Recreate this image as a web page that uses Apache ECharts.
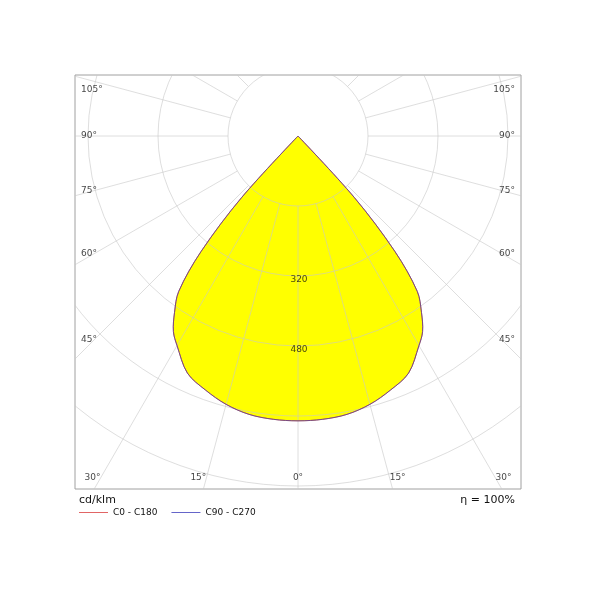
<!DOCTYPE html>
<html><head><meta charset="utf-8">
<script src="https://cdn.jsdelivr.net/npm/echarts@6/dist/echarts.min.js"></script>
<style>html,body{margin:0;padding:0;background:#fff}#c{width:600px;height:600px}</style>
</head><body><div id="c"></div>
<script>
// ---- data (cd/klm) ----
const gammaAngles = [0, 5, 10, 15, 20, 25, 30, 32.5, 35, 37.5, 40, 42.5, 45];
const c0c180  = [651, 650, 646, 635, 618, 598, 553, 530, 492, 448, 345, 190, 0];
const c90c270 = [651, 650, 646, 635, 618, 598, 553, 530, 492, 448, 345, 190, 0];
const ringValues = [160, 320, 480, 640, 800];
const ringLabelValues = [320, 480];
const rayAngles = [0,15,30,45,60,75,90,105,120,135,150,165,180,195,210,225,240,255,270,285,300,315,330,345];
const bottomTicks = [-30, -15, 0, 15, 30];
const sideTicks = [45, 60, 75, 90, 105];

// ---- layout ----
const BOX = {left: 75, top: 75, width: 446, height: 414};
const POLE = {x: 298, y: 136};
const PX_PER_CD = 70 / 160;
const FONT = 'DejaVu Sans';
const TXT = '#111';
const GRID = 'rgba(200,200,200,0.6)';
const RED = '#e06060', BLUE = '#6060c8';
const xMin = -(POLE.x - BOX.left) / PX_PER_CD;
const xMax = (BOX.left + BOX.width - POLE.x) / PX_PER_CD;
const yMax = (POLE.y - BOX.top) / PX_PER_CD;
const yMin = -(BOX.top + BOX.height - POLE.y) / PX_PER_CD;
const rad = d => d * Math.PI / 180;

// closed outline: tip -> C180 side (high gamma to 0) -> C0 side (0 to high gamma) -> tip
function curve(vals) {
  const n = gammaAngles.length;
  const pts = [];
  for (let i = n - 1; i >= 1; i--) {
    const a = rad(gammaAngles[i]);
    pts.push([-vals[i] * Math.sin(a), -vals[i] * Math.cos(a)]);
  }
  for (let i = 0; i < n; i++) {
    const a = rad(gammaAngles[i]);
    pts.push([vals[i] * Math.sin(a), -vals[i] * Math.cos(a)]);
  }
  return pts;
}
// smooth path (chord-length weighted tangents) through pixel points, sharp at the ends
function smoothPath(P) {
  const m = P.length - 1;
  const dist = (a, b) => Math.hypot(b[0] - a[0], b[1] - a[1]) || 1e-6;
  let d = 'M' + P[0][0] + ' ' + P[0][1];
  for (let i = 0; i < m; i++) {
    const p0 = P[Math.max(i - 1, 0)], p1 = P[i], p2 = P[i + 1], p3 = P[Math.min(i + 2, m)];
    const d01 = i > 0 ? dist(p0, p1) : 0, d12 = dist(p1, p2), d23 = i + 2 <= m ? dist(p2, p3) : 0;
    const s1 = d12 / (d01 + d12) / 3, s2 = d12 / (d12 + d23) / 3;
    const c1 = i > 0 ? [p1[0] + (p2[0] - p0[0]) * s1, p1[1] + (p2[1] - p0[1]) * s1] : p1;
    const c2 = i + 2 <= m ? [p2[0] - (p3[0] - p1[0]) * s2, p2[1] - (p3[1] - p1[1]) * s2] : p2;
    d += 'C' + c1[0] + ' ' + c1[1] + ' ' + c2[0] + ' ' + c2[1] + ' ' + p2[0] + ' ' + p2[1];
  }
  return d + 'Z';
}
function clipRect(params) {
  const cs = params.coordSys;
  return {type: 'rect', shape: {x: cs.x, y: cs.y, width: cs.width, height: cs.height}};
}
function outlineSeries(name, vals, color, z, opacity) {
  return {
    name: name, type: 'custom', z: z, silent: true, data: [[0, 0]],
    renderItem: (params, api) => ({
      type: 'group', clipPath: clipRect(params), children: [{
        type: 'path', shape: {pathData: smoothPath(curve(vals).map(p => api.coord(p)))},
        style: {fill: 'none', stroke: color, lineWidth: 1, opacity: opacity}
      }]
    })
  };
}

// angle tick labels
const tickData = [];
bottomTicks.forEach(t => {
  const px = t === 0 ? 0 : Math.sign(t) * (342 * Math.tan(rad(Math.abs(t))) + 8);
  tickData.push({value: [px / PX_PER_CD, -(478 - POLE.y) / PX_PER_CD],
    label: {formatter: Math.abs(t) + '°', align: 'center'}});
});
sideTicks.forEach(t => {
  let dy = 204 / Math.tan(rad(t));
  if (POLE.y + dy < 90) dy = 90 - POLE.y;
  const yv = -dy / PX_PER_CD;
  tickData.push({value: [(81 - POLE.x) / PX_PER_CD, yv], label: {formatter: t + '°', align: 'left'}});
  tickData.push({value: [(515 - POLE.x) / PX_PER_CD, yv], label: {formatter: t + '°', align: 'right'}});
});

const chart = echarts.init(document.getElementById('c'), null, {renderer: 'canvas'});
chart.setOption({
  animation: false,
  backgroundColor: '#fff',
  grid: {left: BOX.left, top: BOX.top, width: BOX.width, height: BOX.height,
         show: true, borderColor: '#a0a0a0', borderWidth: 1, backgroundColor: 'transparent'},
  xAxis: {type: 'value', min: xMin, max: xMax, show: false},
  yAxis: {type: 'value', min: yMin, max: yMax, show: false},
  legend: {
    left: 79, top: 508, padding: 0, itemWidth: 29, itemHeight: 10, itemGap: 14,
    textStyle: {fontFamily: FONT, fontSize: 9, color: TXT},
    data: [
      {name: 'C0 - C180', icon: 'path://M0,4.5L30,4.5L30,5.5L0,5.5Z', itemStyle: {color: RED, borderWidth: 0, opacity: 1}},
      {name: 'C90 - C270', icon: 'path://M0,4.5L30,4.5L30,5.5L0,5.5Z', itemStyle: {color: BLUE, borderWidth: 0, opacity: 1}}
    ]
  },
  graphic: [
    {type: 'text', left: 79, top: 495, style: {text: 'cd/klm', font: '11px "DejaVu Sans"', fill: TXT}},
    {type: 'text', right: 85, top: 495, style: {text: 'η = 100%', font: '11px "DejaVu Sans"', fill: TXT}}
  ],
  series: [
    {
      type: 'custom', z: 1, silent: true, data: [[0, 0]],
      renderItem: (params, api) => ({
        type: 'group', clipPath: clipRect(params), children: [{
          type: 'path', shape: {pathData: smoothPath(curve(c0c180).map(p => api.coord(p)))},
          style: {fill: '#ffff00'}
        }]
      })
    },
    {
      type: 'custom', z: 2, silent: true, data: ringValues.map(v => [v, 0]),
      renderItem: (params, api) => {
        const c = api.coord([0, 0]);
        const r = api.size([api.value(0), 0])[0];
        return {type: 'group', clipPath: clipRect(params), children: [
          {type: 'circle', shape: {cx: c[0], cy: c[1], r: r}, style: {fill: 'none', stroke: GRID, lineWidth: 1}}]};
      }
    },
    {
      type: 'custom', z: 2, silent: true, data: rayAngles.map(v => [v, 0]),
      renderItem: (params, api) => {
        const a = rad(api.value(0));
        const r0 = ringValues[0], r1 = 1400;
        const p0 = api.coord([r0 * Math.sin(a), -r0 * Math.cos(a)]);
        const p1 = api.coord([r1 * Math.sin(a), -r1 * Math.cos(a)]);
        return {type: 'group', clipPath: clipRect(params), children: [
          {type: 'line', shape: {x1: p0[0], y1: p0[1], x2: p1[0], y2: p1[1]}, style: {stroke: GRID, lineWidth: 1}}]};
      }
    },
    outlineSeries('C0 - C180', c0c180, '#c04a4a', 3, 1),
    outlineSeries('C90 - C270', c90c270, '#4a4aa8', 4, 0.6),
    {
      type: 'scatter', z: 5, symbolSize: 0, silent: true,
      data: ringLabelValues.map(v => ({value: [0, -v], label: {formatter: String(v)}})),
      label: {show: true, position: 'inside', offset: [1, 4], fontFamily: FONT, fontSize: 9, color: TXT}
    },
    {
      type: 'scatter', z: 5, symbolSize: 0, silent: true, clip: false, data: tickData,
      label: {show: true, position: 'inside', verticalAlign: 'middle', fontFamily: FONT, fontSize: 9, color: TXT}
    }
  ]
});
</script></body></html>
